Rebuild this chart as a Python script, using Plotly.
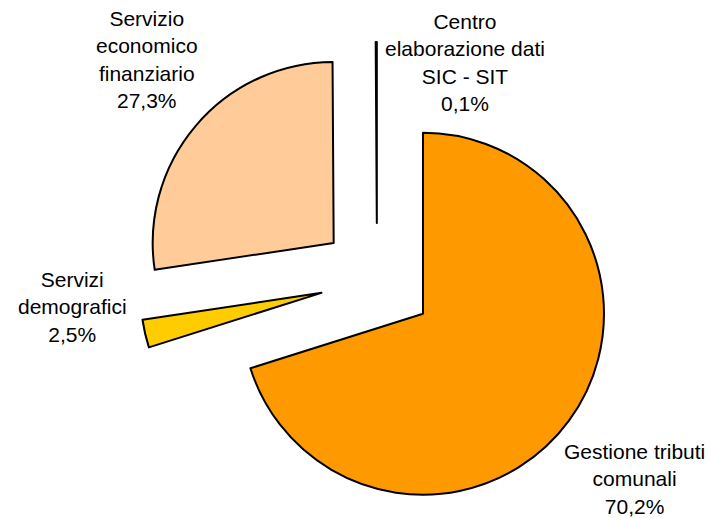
import plotly.graph_objects as go

# Data
labels = ["Gestione tributi comunali", "Servizi demografici",
          "Servizio economico finanziario", "Centro elaborazione dati SIC - SIT"]
label_lines = ["Gestione tributi<br>comunali", "Servizi<br>demografici",
               "Servizio<br>economico<br>finanziario", "Centro<br>elaborazione dati<br>SIC - SIT"]
values = [70.2, 2.5, 27.3, 0.1]
colors = ["#FF9900", "#FFCC00", "#FFCC99", "#FFFF99"]

# Label placement (page pixel centers)
label_px = [(634, 479), (72, 307), (147, 60), (465, 63)]

W, H = 711, 518
ML, MR, MT, MB = 43, 0, 42, 0
PW, PH = W - ML - MR, H - MT - MB

fig = go.Figure(go.Pie(
    labels=labels,
    values=values,
    sort=False,
    direction="clockwise",
    rotation=0,
    pull=[0.315] * len(values),
    marker=dict(colors=colors, line=dict(color="black", width=2)),
    textinfo="none",
    hoverinfo="label+percent",
    showlegend=False,
    domain=dict(x=[0, 1], y=[0, 1]),
))

annotations = []
for txt, v, (px, py) in zip(label_lines, values, label_px):
    annotations.append(dict(
        text=f"{txt}<br>{v:.1f}%".replace(".", ","),
        x=(px - ML) / PW, y=(H - MB - py) / PH,
        xref="paper", yref="paper",
        xanchor="center", yanchor="middle",
        showarrow=False, align="center",
        font=dict(family="Liberation Sans, Arial, sans-serif", size=21, color="black"),
    ))

fig.update_layout(
    width=W, height=H,
    margin=dict(l=ML, r=MR, t=MT, b=MB),
    paper_bgcolor="white", plot_bgcolor="white",
    annotations=annotations,
)

fig.write_html(
    "out.html",
    config={"displayModeBar": False},
    post_script="document.body.style.margin='0';document.body.style.overflow='hidden';",
)
